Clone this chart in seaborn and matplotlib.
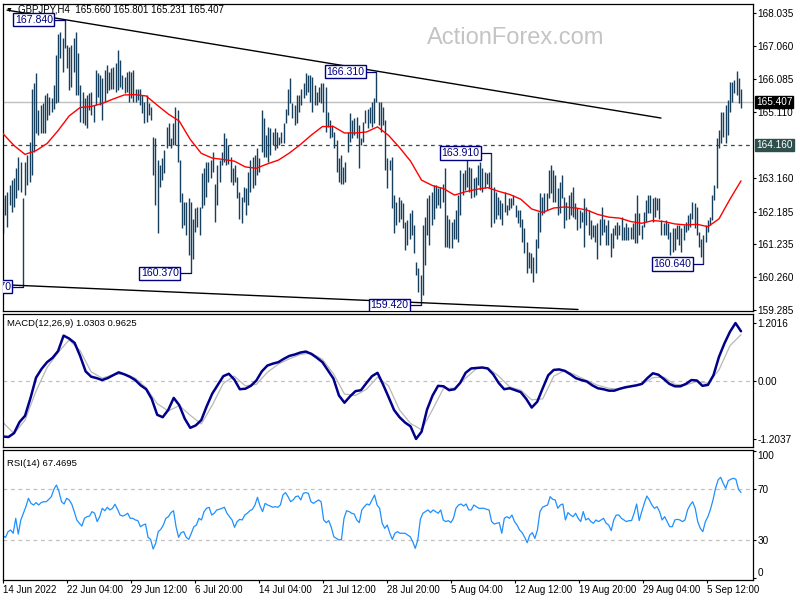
import numpy as np
import seaborn as sns
import matplotlib.pyplot as plt
import matplotlib.transforms as mtransforms

# GBPJPY H4, 14 Jun - 8 Sep 2022, bars (high / low)
bar_high = [
    162.57, 162.67, 162.77, 162.97, 163.11, 163.16, 163.46, 163.80, 163.65, 162.57,
    163.65, 163.85, 164.24, 165.81, 165.96, 166.26, 165.18, 165.32, 165.37, 165.62,
    165.67, 165.57, 165.52, 165.91, 166.80, 167.43, 167.48, 167.29, 167.84, 167.09,
    167.04, 167.09, 167.29, 167.48, 166.85, 165.91, 165.72, 165.52, 165.62, 165.67,
    165.72, 165.32, 166.35, 166.26, 166.21, 166.11, 166.35, 166.50, 166.30, 166.40,
    166.45, 166.55, 166.94, 166.65, 166.21, 166.16, 166.30, 166.32, 166.29, 166.35,
    165.81, 165.81, 165.81, 165.62, 165.42, 165.62, 165.37, 165.27, 164.39, 164.34,
    163.70, 163.55, 163.75, 164.00, 164.68, 164.78, 164.34, 164.78, 165.27, 165.18,
    163.70, 162.72, 162.47,
    162.47, 162.57, 162.47, 161.98, 162.28, 162.33, 162.33, 163.31, 163.46, 163.65,
    163.65, 163.70, 163.95, 163.01, 163.55, 163.70, 163.95, 164.49, 164.34, 164.14,
    163.80, 163.46, 163.55, 163.21, 162.77, 162.62, 162.92, 162.87, 163.36, 163.70,
    163.80, 163.85, 164.05, 163.75, 165.18, 164.93, 164.44, 164.68, 164.64, 164.54,
    164.64, 164.54, 164.39, 164.54, 164.78, 165.22, 165.81, 166.11, 165.37, 165.32,
    165.62, 165.62, 165.81, 165.96, 166.26, 166.21, 166.21, 166.16, 165.91, 165.72,
    165.86, 165.96, 165.96, 165.86, 165.13, 164.88, 164.73, 164.54, 164.29, 163.75,
    163.85, 163.51, 163.65, 164.54, 165.08, 164.88, 164.93, 164.98, 164.73, 164.34,
    164.83, 165.18, 165.22, 165.27,
    165.42, 165.52, 166.31, 165.42, 165.42, 165.27, 164.88, 163.75, 163.70, 163.80,
    162.67, 162.47, 162.62, 162.52, 162.43, 161.89, 161.93, 162.13, 162.23, 161.79,
    160.71, 160.51, 160.31, 161.79, 162.03, 162.57, 162.67, 162.77, 162.97, 162.97,
    162.87, 162.92, 163.01, 163.46, 162.08, 161.98, 161.89, 161.98, 162.23, 162.67,
    163.41, 163.31, 163.41, 163.85, 163.51, 163.46, 163.16, 163.21, 163.55, 163.65,
    163.46, 163.36, 163.31, 163.36, 163.91, 162.92, 162.77, 162.62, 162.52, 162.43,
    162.77, 162.38, 162.57, 162.57, 162.67, 162.38, 162.23, 162.23, 161.98, 161.69,
    161.30, 161.00, 160.95, 160.85, 161.39, 162.18, 162.72, 162.62, 162.72, 162.72,
    163.41, 163.55, 163.41,
    163.26, 162.87, 163.06, 163.26, 162.62, 162.47, 162.67, 162.77, 162.92, 162.43,
    162.28, 162.23, 162.18, 162.57, 162.33, 162.23, 161.93, 161.79, 161.79, 161.84,
    161.98, 162.33, 161.98, 161.79, 161.93, 161.54, 161.69, 161.79, 161.89, 161.79,
    162.03, 161.74, 161.84, 161.74, 161.74, 161.84, 162.13, 162.67, 162.13, 161.79,
    162.18, 162.52, 162.67, 162.67, 162.57, 162.62, 162.57, 162.57, 161.93, 161.84,
    161.93, 161.84, 161.59, 161.69, 161.69, 161.79, 161.79, 161.69, 161.79, 161.89,
    162.08, 162.13, 162.47, 162.43, 162.33, 161.59, 161.39, 161.49, 161.79, 161.93,
    162.03, 162.67, 162.97, 164.34, 164.59, 165.13, 165.13, 165.32, 165.47, 166.01,
    166.01, 166.06, 166.33, 166.11, 165.80,
]
bar_low = [
    161.54, 162.08, 161.74, 162.38, 162.18, 162.33, 162.57, 162.82, 162.77, 159.97,
    162.67, 162.97, 163.06, 163.26, 163.95, 164.49, 164.44, 164.49, 164.49, 164.49,
    164.88, 165.03, 165.13, 165.22, 165.37, 165.42, 166.70, 166.31, 166.99, 166.40,
    165.77, 165.86, 166.31, 165.62, 165.62, 164.83, 164.78, 164.73, 164.64, 165.18,
    165.03, 164.83, 165.32, 165.57, 165.32, 164.88, 165.42, 165.67, 165.77, 165.81,
    165.81, 165.72, 165.77, 165.86, 165.81, 165.67, 165.72, 165.42, 165.52, 165.42,
    165.42, 165.47, 165.32, 165.08, 164.78, 164.83, 165.03, 164.88, 163.26, 162.38,
    161.54, 162.92, 163.11, 163.31, 164.05, 164.14, 164.05, 164.14, 164.14, 163.65,
    162.47, 161.69, 161.79,
    161.49, 160.90, 160.37, 160.80, 161.59, 161.74, 161.49, 162.28, 162.38, 162.62,
    163.06, 163.16, 163.36, 161.89, 162.38, 163.06, 163.55, 163.65, 163.55, 163.60,
    163.06, 162.97, 163.06, 162.57, 161.98, 161.84, 162.47, 162.08, 162.38, 162.77,
    162.87, 162.97, 163.26, 163.36, 163.95, 163.80, 163.80, 163.65, 163.85, 164.14,
    164.00, 164.05, 164.14, 164.19, 164.19, 164.78, 165.03, 165.37, 164.93, 164.73,
    164.78, 165.13, 165.32, 165.52, 165.62, 165.72, 165.42, 165.13, 165.32, 165.32,
    165.42, 165.37, 165.13, 164.54, 164.68, 164.34, 164.39, 164.05, 163.36, 163.06,
    163.01, 163.01, 163.06, 163.95, 164.24, 164.34, 164.44, 164.34, 163.46, 164.14,
    164.24, 164.78, 164.64, 164.78,
    164.68, 164.78, 165.42, 164.73, 164.54, 164.73, 163.41, 162.87, 163.41, 162.28,
    161.54, 161.79, 161.89, 161.98, 161.69, 161.05, 161.20, 161.39, 161.49, 160.95,
    160.31, 159.82, 159.42, 159.72, 160.61, 161.49, 161.20, 161.79, 161.98, 162.28,
    162.38, 162.28, 162.47, 161.15, 161.15, 161.10, 161.10, 161.39, 161.39, 161.30,
    162.08, 162.67, 162.82, 162.92, 162.77, 162.57, 162.62, 162.67, 162.97, 162.82,
    162.77, 162.87, 163.01, 162.87, 161.74, 161.84, 161.98, 162.08, 161.98, 161.79,
    162.18, 162.08, 162.23, 162.28, 162.38, 162.03, 161.84, 161.74, 161.30, 160.95,
    160.36, 160.51, 160.36, 160.12, 160.36, 161.10, 161.59, 162.08, 162.13, 162.23,
    162.57, 162.72, 162.47,
    162.47, 162.08, 162.13, 162.57, 161.69, 161.93, 161.98, 162.08, 162.03, 161.98,
    161.64, 161.69, 161.89, 161.15, 161.79, 161.49, 161.39, 161.44, 161.30, 160.80,
    161.20, 161.49, 161.59, 161.20, 161.20, 160.85, 161.10, 161.49, 161.39, 161.49,
    161.34, 161.34, 161.34, 161.34, 161.39, 161.39, 161.25, 161.25, 161.49, 161.39,
    161.74, 161.89, 162.13, 162.13, 161.89, 162.03, 162.23, 161.98, 161.49, 161.49,
    161.49, 161.39, 160.90, 161.00, 161.05, 161.39, 161.20, 161.00, 161.34, 161.59,
    161.64, 161.74, 161.98, 161.69, 161.49, 161.15, 160.85, 160.64, 161.30, 161.59,
    161.79, 161.93, 162.52, 162.87, 164.05, 164.19, 164.39, 164.19, 164.44, 165.13,
    165.42, 165.67, 165.62, 165.37, 165.23,
]

# red moving average, sampled evenly across the window
ma_line = [
    164.48, 164.13, 163.87, 163.98, 164.19, 164.57, 165.00, 165.25, 165.28, 165.37,
    165.50, 165.62, 165.63, 165.59, 165.32, 165.06, 164.85, 164.31, 163.90, 163.76,
    163.72, 163.67, 163.50, 163.46, 163.59, 163.70, 163.91, 164.16, 164.44, 164.69,
    164.69, 164.50, 164.50, 164.53, 164.68, 164.43, 164.07, 163.67, 163.11, 162.95,
    162.86, 162.67, 162.77, 162.84, 162.89, 162.78, 162.69, 162.55, 162.26, 162.16,
    162.29, 162.32, 162.29, 162.23, 162.10, 162.02, 161.99, 161.89, 161.84, 161.92,
    161.89, 161.82, 161.79, 161.81, 161.74, 161.97, 162.55, 163.09,
]

macd_main = [
    -1.15, -1.16, -1.08, -0.85, -0.72, -0.35, 0.07, 0.25, 0.39, 0.48,
    0.62, 0.94, 0.88, 0.79, 0.52, 0.20, 0.09, 0.06, 0.02, 0.06,
    0.12, 0.18, 0.14, 0.09, 0.02, -0.09, -0.17, -0.37, -0.70, -0.75,
    -0.60, -0.35, -0.50, -0.78, -0.97, -0.92, -0.81, -0.52, -0.26, -0.08,
    0.10, 0.15, 0.03, -0.17, -0.16, -0.10, 0.01, 0.20, 0.32, 0.36,
    0.39, 0.46, 0.52, 0.55, 0.59, 0.61, 0.56, 0.48, 0.39, 0.22,
    0.05, -0.30, -0.45, -0.32, -0.21, -0.19, -0.04, 0.10, 0.17, -0.07,
    -0.33, -0.60, -0.75, -0.86, -0.94, -1.20, -1.05, -0.59, -0.30, -0.10,
    -0.11, -0.19, -0.17, -0.04, 0.17, 0.26, 0.27, 0.28, 0.26, 0.14,
    -0.04, -0.17, -0.15, -0.19, -0.23, -0.37, -0.55, -0.43, -0.15, 0.12,
    0.23, 0.24, 0.21, 0.14, 0.06, 0.02, -0.01, -0.09, -0.15, -0.17,
    -0.20, -0.20, -0.16, -0.13, -0.11, -0.09, -0.06, 0.06, 0.16, 0.13,
    0.04, -0.06, -0.11, -0.11, -0.06, 0.02, 0.01, -0.10, -0.08, 0.12,
    0.50, 0.78, 1.02, 1.20, 1.03,
]
macd_signal = [
    -0.86, -1.09, -0.81, -0.21, 0.28, 0.59, 0.85, 0.63, 0.19, 0.06,
    0.13, 0.15, 0.06, -0.14, -0.47, -0.62, -0.51, -0.71, -0.89, -0.50,
    -0.05, 0.10, -0.10, -0.07, 0.18, 0.35, 0.46, 0.55, 0.58, 0.45,
    0.15, -0.27, -0.30, -0.17, 0.08, -0.10, -0.60, -0.88, -1.01, -0.59,
    -0.15, -0.15, 0.06, 0.26, 0.28, 0.10, -0.12, -0.19, -0.39, -0.37,
    0.10, 0.22, 0.12, 0.01, -0.09, -0.15, -0.17, -0.12, -0.07, 0.07,
    0.08, -0.07, -0.08, -0.01, -0.05, 0.23, 0.73, 0.96,
]

rsi_line = [
    33.2, 32.1, 36.6, 37.9, 35.3, 47.1, 34.7, 45.8, 51.1, 56.3,
    62.9, 58.9, 57.6, 59.5, 57.6, 59.5, 60.2, 60.2, 62.1, 64.2,
    70.0, 73.4, 68.2, 60.2, 58.4, 62.9, 61.6, 58.4, 52.4, 45.8,
    43.2, 41.0, 47.1, 48.4, 48.9, 52.4, 51.1, 44.5, 48.4, 55.0,
    53.1, 55.8, 53.7, 55.0, 58.2, 54.2, 49.7, 48.9, 49.7, 51.1,
    47.1, 47.1, 45.8, 45.3, 40.5, 41.8, 42.6, 32.1, 30.5, 22.9,
    27.4, 36.6, 38.4, 41.8, 47.1, 48.4, 51.6, 53.1, 40.5, 32.1,
    35.8, 36.6, 32.1, 30.5, 35.3, 40.5, 41.8, 47.1, 45.8, 52.4,
    55.0, 55.8, 49.7, 51.1, 53.7, 54.2, 55.0, 55.8, 51.1, 48.4,
    45.8, 40.0, 44.5, 46.3, 45.8, 49.7, 51.1, 53.1, 54.2, 57.6,
    63.7, 56.8, 52.4, 58.9, 57.6, 56.8, 55.8, 56.3, 55.8, 57.6,
    65.5, 67.4, 64.2, 60.2, 61.6, 64.2, 64.7, 61.6, 66.8, 67.4,
    66.8, 60.2, 58.9, 60.2, 61.6, 60.2, 45.8, 43.7, 45.3, 40.0,
    32.6, 31.3, 30.0, 30.5, 47.1, 53.1, 52.4, 51.1, 50.5, 45.8,
    43.7, 53.7, 56.3, 58.4, 57.6, 61.6, 65.5, 57.6, 55.0, 43.2,
    39.2, 41.8, 35.3, 30.5, 35.3, 36.6, 35.3, 35.3, 35.3, 34.0,
    32.6, 28.7, 23.4, 30.0, 46.3, 51.1, 52.4, 53.7, 51.6, 53.7,
    52.4, 51.1, 53.7, 45.8, 44.5, 45.3, 43.7, 47.1, 55.0, 57.6,
    58.4, 56.8, 58.4, 53.7, 53.7, 57.6, 56.3, 55.0, 55.0, 55.0,
    54.2, 53.7, 44.5, 42.6, 43.2, 43.7, 35.3, 47.1, 48.4, 47.1,
    49.7, 44.5, 41.8, 37.9, 35.8, 32.1, 27.9, 33.9, 35.8, 31.3,
    37.9, 52.4, 55.8, 56.8, 57.6, 64.2, 62.1, 61.6, 55.0, 57.6,
    58.4, 45.8, 51.6, 49.7, 48.4, 51.1, 47.1, 44.5, 52.4, 45.8,
    47.1, 44.5, 43.2, 45.8, 44.5, 45.8, 47.1, 43.2, 41.8, 37.4,
    45.8, 49.7, 49.7, 47.1, 45.8, 44.5, 45.3, 45.3, 51.1, 58.4,
    45.3, 52.4, 58.9, 64.7, 61.6, 57.6, 55.0, 56.3, 52.4, 45.8,
    48.4, 44.5, 40.5, 40.5, 45.8, 46.3, 45.8, 44.5, 45.8, 53.7,
    57.6, 60.2, 55.0, 44.5, 39.2, 36.6, 44.5, 48.4, 54.2, 61.6,
    70.8, 77.4, 79.5, 74.7, 70.8, 76.8, 77.9, 78.7, 77.9, 70.0,
    67.5,
]

price_ticks = [168.035, 167.060, 166.085, 165.110, 163.160, 162.185, 161.235, 160.260, 159.285]
date_labels = ["14 Jun 2022", "22 Jun 04:00", "29 Jun 12:00", "6 Jul 20:00",
               "14 Jul 04:00", "21 Jul 12:00", "28 Jul 20:00", "5 Aug 04:00",
               "12 Aug 12:00", "19 Aug 20:00", "29 Aug 04:00", "5 Sep 12:00"]
last_price = 165.407
level_price = 164.160
swing_highs = [167.840, 166.310, 163.910]
swing_lows = [159.970, 160.370, 159.420, 160.640]
# trend lines: (bar, price) anchors
upper_bars, upper_prices = [2, 329], [168.12, 164.94]
lower_bars, lower_prices = [0, 287.5], [160.03, 159.30]

n_h4 = 369  # H4 bars in the window (32 per date label)

sns.set_theme(style="white")
plt.rcParams['font.family'] = ['Liberation Sans', 'DejaVu Sans']

BAR_C = '#163f5e'
NAVY = '#000080'

fig = plt.figure(figsize=(8, 6), dpi=100)
fig.patch.set_facecolor('white')


def box(l, t, r, b):
    return [l / 800, 1 - b / 600, (r - l) / 800, (b - t) / 600]


ax_p = fig.add_axes(box(2.5, 4, 752.5, 311))
ax_m = fig.add_axes(box(2.5, 314, 752.5, 447))
ax_r = fig.add_axes(box(2.5, 450, 752.5, 580))

for ax in (ax_p, ax_m, ax_r):
    ax.set_facecolor('white')
    ax.set_xlim(-0.25, 374.75)
    for s in ax.spines.values():
        s.set_color('black')
        s.set_linewidth(0.9)
    ax.yaxis.tick_right()
    ax.tick_params(axis='y', which='both', direction='out', length=2.2, width=0.8,
                   pad=1.2, labelsize=7.2, colors='black', right=True, left=False,
                   labelright=True, labelleft=False)
    ax.grid(False)

# ---- price panel
x_bars = np.linspace(0, n_h4, len(bar_high))
highs = np.array(bar_high)
lows = np.array(bar_low)

ax_p.text(516 / 800, 1 - 38 / 600, "ActionForex.com", transform=fig.transFigure,
          ha='center', va='center', fontsize=17, color='#c4c4c4', zorder=0.5)

ax_p.axhline(last_price, color='#c0c0c0', lw=1, zorder=1)
ax_p.axhline(level_price, color='#2f4f4f', lw=0.9, ls=(0, (3, 3)), zorder=1)

ax_p.vlines(x_bars, lows, highs, color=BAR_C, lw=1.0, zorder=2)
sns.lineplot(x=np.linspace(0, n_h4, len(ma_line)), y=ma_line, ax=ax_p,
             color='#ff0000', lw=1.0, legend=False, zorder=3)

ax_p.plot(upper_bars, upper_prices, color='black', lw=1.0, zorder=4)
ax_p.plot(lower_bars, lower_prices, color='black', lw=1.0, zorder=4)

lab_kw = dict(ha='right', va='center', fontsize=7.6, color=NAVY, zorder=6,
              clip_on=True,
              bbox=dict(boxstyle='square,pad=0.15', fc='white', ec=NAVY, lw=1.0))
for v in swing_highs:
    i = np.flatnonzero(np.isclose(highs, v))[0]
    xb = x_bars[i]
    ax_p.plot([xb - 6, xb], [v, v], color=NAVY, lw=0.9, zorder=5)
    ax_p.text(xb - 6, v, f"{v:.3f}", **lab_kw)
for v in swing_lows:
    i = np.flatnonzero(np.isclose(lows, v))[0]
    xb = x_bars[i]
    ax_p.plot([xb - 6, xb], [v, v], color=NAVY, lw=0.9, zorder=5)
    ax_p.text(xb - 6, v, f"{v:.3f}", **lab_kw)

ax_p.set_ylim(159.255, 168.30)
ax_p.set_yticks(price_ticks)
ax_p.set_yticklabels([f"{t:.3f}" for t in price_ticks])
ax_p.set_xticks([])

tr = mtransforms.blended_transform_factory(ax_p.transAxes, ax_p.transData)
ax_p.text(1.0048, last_price, f"{last_price:.3f}", transform=tr, ha='left', va='center',
          fontsize=7.2, color='white', zorder=7, clip_on=False,
          bbox=dict(boxstyle='square,pad=0.1', fc='black', ec='black'))
ax_p.text(1.0048, level_price, f"{level_price:.3f}", transform=tr, ha='left', va='center',
          fontsize=7.2, color='white', zorder=7, clip_on=False,
          bbox=dict(boxstyle='square,pad=0.1', fc='#2f4f4f', ec='#2f4f4f'))

fig.text(6 / 800, 1 - 10 / 600, "\u25bc", fontsize=5, va='center', ha='left', color='black')
fig.text(18 / 800, 1 - 10 / 600, "GBPJPY,H4  165.660 165.801 165.231 165.407",
         fontsize=7.0, va='center', ha='left', color='black')

# ---- MACD panel
ax_m.axhline(0, color='#c0c0c0', lw=0.9, ls=(0, (3, 3)), zorder=1)
sns.lineplot(x=np.linspace(0, n_h4, len(macd_signal)), y=macd_signal, ax=ax_m,
             color='#b8b8b8', lw=0.9, legend=False, zorder=2)
sns.lineplot(x=np.linspace(0, n_h4, len(macd_main)), y=macd_main, ax=ax_m,
             color='#00008b', lw=1.8, legend=False, zorder=3)
ax_m.set_ylim(-1.367, 1.388)
ax_m.set_yticks([1.2016, 0.0, -1.2037])
ax_m.set_yticklabels(['1.2016', '0.00', '-1.2037'])
ax_m.set_xticks([])
ax_m.text(0.006, 0.93, "MACD(12,26,9) 1.0303 0.9625", transform=ax_m.transAxes,
          fontsize=6.8, va='center', ha='left', color='black')

# ---- RSI panel
for lvl in (70, 30):
    ax_r.axhline(lvl, color='#c0c0c0', lw=0.9, ls=(0, (3, 3)), zorder=1)
sns.lineplot(x=np.linspace(0, n_h4, len(rsi_line)), y=rsi_line, ax=ax_r,
             color='#1e90ff', lw=0.9, legend=False, zorder=2)
ax_r.set_ylim(-1.56, 101.0)
ax_r.set_yticks([100, 70, 30, 0])
ax_r.set_yticklabels(['100', '70', '30', '0'])
ylabs = ax_r.get_yticklabels()
ylabs[0].set_va('top')
ylabs[3].set_va('bottom')
ax_r.text(0.006, 0.9, "RSI(14) 67.4695", transform=ax_r.transAxes,
          fontsize=6.8, va='center', ha='left', color='black')

ax_r.set_xticks(np.arange(len(date_labels)) * 32)
ax_r.set_xticklabels(date_labels, ha='left')
ax_r.tick_params(axis='x', direction='out', length=2.5, width=0.8, pad=1.0,
                 labelsize=7.0, colors='black', bottom=True)
for ax in (ax_p, ax_m, ax_r):
    ax.set_xlabel('')
    ax.set_ylabel('')

fig.savefig('out.png', dpi=100, facecolor='white')
